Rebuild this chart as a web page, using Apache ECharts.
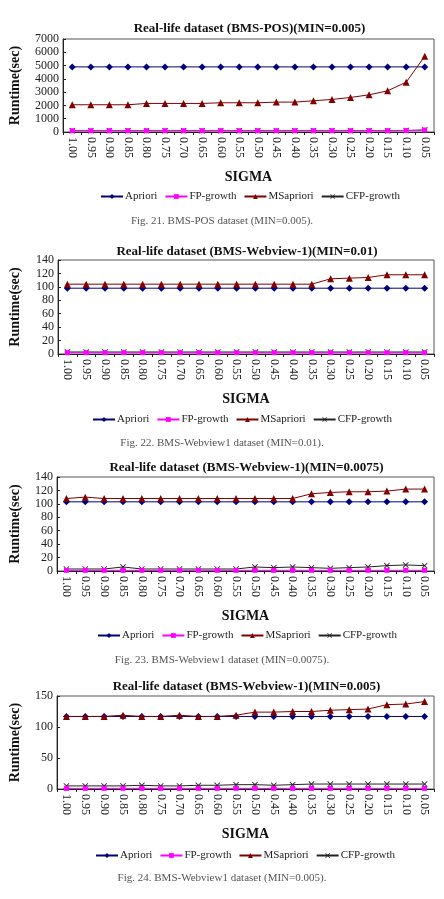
<!DOCTYPE html>
<html>
<head>
<meta charset="utf-8">
<script src="https://cdn.jsdelivr.net/npm/echarts@6/dist/echarts.min.js"></script>
<style>
  html, body { margin: 0; padding: 0; background: #fff; }
  #main { width: 444px; height: 899px; }
</style>
</head>
<body>
<div id="main"></div>
<script>
const sigma = ['1.00', '0.95', '0.90', '0.85', '0.80', '0.75', '0.70', '0.65', '0.60', '0.55',
  '0.50', '0.45', '0.40', '0.35', '0.30', '0.25', '0.20', '0.15', '0.10', '0.05']
const names = ['Apriori', 'FP-growth', 'MSapriori', 'CFP-growth']

// Fig. 21 BMS-POS (MIN=0.005)
const posApriori = [4900, 4900, 4900, 4900, 4900, 4900, 4900, 4900, 4900, 4900, 4900, 4900, 4900, 4900, 4900, 4900, 4900, 4900, 4900, 4900]
const posFp = [100, 100, 100, 100, 100, 100, 100, 100, 100, 100, 100, 100, 100, 100, 100, 100, 100, 100, 110, 150]
const posMs = [2050, 2050, 2050, 2050, 2150, 2150, 2150, 2150, 2200, 2200, 2200, 2250, 2250, 2350, 2450, 2600, 2800, 3100, 3750, 5700]
const posCfp = [100, 100, 100, 100, 100, 100, 100, 100, 100, 100, 100, 100, 100, 100, 100, 100, 100, 100, 110, 150]

// Fig. 22 BMS-Webview1 (MIN=0.01)
const wv01Apriori = [98, 98, 98, 98, 98, 98, 98, 98, 98, 98, 98, 98, 98, 98, 98, 98, 98, 98, 98, 98]
const wv01Fp = [2, 2, 2, 2, 2, 2, 2, 2, 2, 2, 2, 2, 2, 2, 2, 2, 2, 2, 2, 2]
const wv01Ms = [104, 104, 104, 104, 104, 104, 104, 104, 104, 104, 104, 104, 104, 104, 112, 113, 114, 118, 118, 118]
const wv01Cfp = [3, 3, 3, 3, 3, 3, 3, 3, 3, 3, 3, 3, 3, 3, 3, 3, 3, 3, 3, 3]

// Fig. 23 BMS-Webview1 (MIN=0.0075)
const wv0075Apriori = [103, 103, 103, 103, 103, 103, 103, 103, 103, 103, 103, 103, 103, 103, 103, 103, 103, 103, 103, 103]
const wv0075Fp = [1, 1, 1, 1, 1, 1, 1, 1, 1, 1, 1, 1, 1, 1, 1, 1, 1, 1, 1, 1]
const wv0075Ms = [108, 110, 108, 108, 108, 108, 108, 108, 108, 108, 108, 108, 108, 115, 117, 118, 118, 119, 122, 122]
const wv0075Cfp = [3, 3, 3, 6, 3, 3, 3, 3, 3, 3, 6, 5, 6, 5, 4, 5, 6, 8, 9, 8]

// Fig. 24 BMS-Webview1 (MIN=0.005)
const wv005Apriori = [117, 117, 117, 117, 117, 117, 117, 117, 117, 117, 117, 117, 117, 117, 117, 117, 117, 117, 117, 117]
const wv005Fp = [1, 1, 1, 1, 1, 1, 1, 1, 1, 1, 1, 1, 1, 1, 1, 1, 1, 1, 1, 1]
const wv005Ms = [117, 117, 117, 119, 117, 117, 119, 117, 117, 119, 124, 124, 125, 125, 127, 128, 129, 136, 137, 141]
const wv005Cfp = [5, 5, 5, 5, 6, 5, 5, 6, 6, 7, 7, 6, 7, 8, 8, 8, 8, 8, 8, 8]

const panels = [
  { title: 'Real-life dataset (BMS-POS)(MIN=0.005)', caption: 'Fig. 21. BMS-POS dataset (MIN=0.005).',
    data: [posApriori, posFp, posMs, posCfp], max: 7000, interval: 1000,
    left: 55, top: 39, height: 93, titleY: 17, legendY: 186, legendX: 95, captionY: 211 },
  { title: 'Real-life dataset (BMS-Webview-1)(MIN=0.01)', caption: 'Fig. 22. BMS-Webview1 dataset (MIN=0.01).',
    data: [wv01Apriori, wv01Fp, wv01Ms, wv01Cfp], max: 140, interval: 20,
    left: 50, top: 260, height: 94, titleY: 240, legendY: 409, legendX: 87, captionY: 433 },
  { title: 'Real-life dataset (BMS-Webview-1)(MIN=0.0075)', caption: 'Fig. 23. BMS-Webview1 dataset (MIN=0.0075).',
    data: [wv0075Apriori, wv0075Fp, wv0075Ms, wv0075Cfp], max: 140, interval: 20,
    left: 49, top: 477, height: 94, titleY: 456, legendY: 625, legendX: 92, captionY: 650 },
  { title: 'Real-life dataset (BMS-Webview-1)(MIN=0.005)', caption: 'Fig. 24. BMS-Webview1 dataset (MIN=0.005).',
    data: [wv005Apriori, wv005Fp, wv005Ms, wv005Cfp], max: 150, interval: 50,
    left: 49, top: 696, height: 93, titleY: 675, legendY: 845, legendX: 90, captionY: 868 }
]

const serif = '"Liberation Serif", "Times New Roman", serif'
const colors = ['#000080', '#ff00ff', '#800000', '#222222']
const crossPath = 'path://M0,1L1,0L5,4L9,0L10,1L6,5L10,9L9,10L5,6L1,10L0,9L4,5Z'
const symbols = ['diamond', 'rect', 'triangle', crossPath]
const symbolSizes = [7, 5, 7, 6]

const title = []
const grid = []
const xAxis = []
const yAxis = []
const legend = []
const series = []

panels.forEach((p, i) => {
  const plotCenter = p.left + (434 - p.left) / 2
  title.push({
    text: p.title, left: plotCenter, top: p.titleY, textAlign: 'center',
    textStyle: { fontFamily: serif, fontSize: 13, fontWeight: 'bold', color: '#111' }
  })
  title.push({
    text: p.caption, left: 'center', top: p.captionY,
    textStyle: { fontFamily: serif, fontSize: 11, fontWeight: 'normal', color: '#555' }
  })
  grid.push({
    left: p.left, right: 10, top: p.top, height: p.height,
    show: true, borderColor: '#555', borderWidth: 1
  })
  xAxis.push({
    type: 'category', gridIndex: i, data: sigma, boundaryGap: true,
    name: 'SIGMA', nameLocation: 'middle', nameGap: 38,
    nameTextStyle: { fontFamily: serif, fontSize: 14, fontWeight: 'bold', color: '#111' },
    axisLine: { lineStyle: { color: '#222' } },
    axisTick: { show: true, length: 3, lineStyle: { color: '#222' } },
    axisLabel: { rotate: -90, fontFamily: serif, fontSize: 12, color: '#222', interval: 0, margin: 5 }
  })
  yAxis.push({
    type: 'value', gridIndex: i, min: 0, max: p.max, interval: p.interval,
    name: 'Runtime(sec)', nameLocation: 'middle', nameGap: p.left - 14, nameRotate: 90,
    nameTextStyle: { fontFamily: serif, fontSize: 14, fontWeight: 'bold', color: '#111' },
    axisLine: { show: true, lineStyle: { color: '#222' } },
    axisTick: { show: true, length: 3, inside: true, lineStyle: { color: '#222' } },
    splitLine: { show: false },
    axisLabel: { fontFamily: serif, fontSize: 12, color: '#222', margin: 4, formatter: v => String(v) }
  })
  legend.push({
    data: names, left: p.legendX, top: p.legendY, itemWidth: 22, itemHeight: 6, itemGap: 7,
    textStyle: { fontFamily: serif, fontSize: 11, color: '#222', padding: [0, 0, 0, -3] }
  })
  p.data.forEach((vals, k) => {
    series.push({
      name: names[k], type: 'line', xAxisIndex: i, yAxisIndex: i,
      data: vals, symbol: symbols[k], symbolSize: symbolSizes[k],
      itemStyle: { color: colors[k] },
      lineStyle: { color: colors[k], width: 1 },
      z: k === 3 ? 1 : 2
    })
  })
})

const myChart = echarts.init(document.getElementById('main'))
myChart.setOption({
  animation: false,
  color: colors,
  title, grid, xAxis, yAxis, legend, series
})
</script>
</body>
</html>
